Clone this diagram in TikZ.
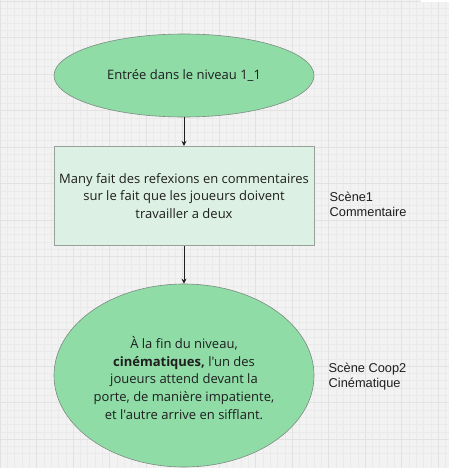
\documentclass[tikz,border=0pt]{standalone}
\usepackage{fontspec}
\setmainfont{Open Sans}[Ligatures=TeXOff]
\newfontfamily\arialfont{Liberation Sans}
\usetikzlibrary{shapes.geometric,arrows.meta}
\definecolor{bgc}{HTML}{F2F2F2}
\definecolor{gridc}{HTML}{EAEAEA}
\definecolor{gridm}{HTML}{E2E2E2}
\definecolor{ellc}{HTML}{8FDCA7}
\definecolor{rectc}{HTML}{DCF1E3}
\definecolor{borderc}{HTML}{7D8A80}
\definecolor{txtc}{HTML}{1E1E1E}
\tikzset{
  shapeel/.style={ellipse, draw=borderc, fill=ellc, line width=0.6pt, inner sep=0pt},
  shaperect/.style={rectangle, draw=borderc!80, fill=rectc, line width=0.6pt, inner sep=0pt},
  bodytxt/.style={align=center, font=\fontsize{13}{17.7}\selectfont, text=txtc, inner sep=0pt},
  sidetxt/.style={align=left, anchor=west, font=\arialfont\fontsize{12.8}{15}\selectfont, text=txtc, inner sep=0pt},
  flow/.style={draw=txtc, line width=1pt, -{Stealth[length=5pt,width=5pt]}}
}
\begin{document}
\begin{tikzpicture}[x=1pt,y=-1pt]
\fill[bgc] (0,0) rectangle (449,468);
\useasboundingbox (0,0) rectangle (449,468);
\foreach \i in {0,...,62} {
  \draw[gridc, line width=0.4pt] ({\i*7.3},0) -- ({\i*7.3},468);
  \draw[gridc, line width=0.4pt] (0,{\i*7.3+1}) -- (449,{\i*7.3+1});
}
\foreach \i in {0,...,13} {
  \draw[gridm, line width=0.5pt] ({\i*36.5},0) -- ({\i*36.5},468);
  \draw[gridm, line width=0.5pt] (0,{\i*36.5+1}) -- (449,{\i*36.5+1});
}
\fill[white] (421,0) rectangle (449,2);
\node[shapeel, minimum width=260pt, minimum height=83pt] (e1) at (184,75.5) {};
\node[bodytxt] (t1) at (e1.center) {Entrée dans le niveau 1\_1};
\node[shaperect, minimum width=260pt, minimum height=99.5pt] (r1) at (184,196) {};
\node[bodytxt] (t2) at (r1.center) {Many fait des refexions en commentaires\\sur le fait que les joueurs doivent\\travailler a deux};
\node[shapeel, minimum width=260pt, minimum height=183pt] (e2) at (184,375.5) {};
\node[bodytxt] (t3) at (184,378) {À la fin du niveau,\\\textbf{cinématiques,} l'un des\\joueurs attend devant la\\porte, de manière impatiente,\\et l'autre arrive en sifflant.};
\node[sidetxt] (s1) at (329.5,204.5) {Scène1\\Commentaire};
\node[sidetxt] (s2) at (328.5,376.5) {Scène Coop2\\Cinématique};
\draw[flow] (e1.south) -- (r1.north);
\draw[flow] (r1.south) -- (e2.north);
\end{tikzpicture}
\end{document}
